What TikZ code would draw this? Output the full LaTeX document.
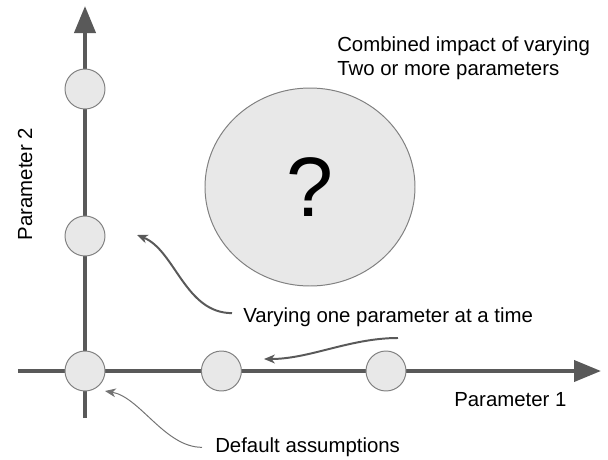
\documentclass[tikz,border=0pt]{standalone}
\usepackage{xcolor}
\usepackage{fontspec}
\setmainfont{Liberation Sans}
\usepackage{tikz}
\usetikzlibrary{arrows.meta,shapes.geometric}

\definecolor{axisgray}{HTML}{595959}
\definecolor{dotfill}{HTML}{E8E8E8}
\definecolor{dotline}{HTML}{808080}

\tikzset{
  axisline/.style={line width=0.1cm, draw=axisgray, -{Triangle[length=0.675cm,width=0.525cm]}},
  dot/.style={circle, fill=dotfill, draw=dotline, line width=0.7pt, minimum size=1cm, inner sep=0pt},
  callout/.style={draw=axisgray, line width=1.4pt, -{Stealth[length=0.27cm,width=0.22cm,inset=0.08cm]}},
  txt/.style={font=\fontsize{14.5}{17}\selectfont, inner sep=0pt}
}

\begin{document}
\begin{tikzpicture}
  \useasboundingbox (-2.125,-2.2) rectangle (13.075,9.275);
  % Axes
  \coordinate (xstart) at (-1.675,0);
  \coordinate (xend) at (12.9,0);
  \coordinate (ystart) at (0,-1.175);
  \coordinate (yend) at (0,9.125);
  \draw[axisline] (xstart) -- (xend);
  \draw[axisline] (ystart) -- (yend);
  % Points on the axes
  \node[dot] (base) at (0,0) {};
  \node[dot] (p1a) at (3.41,0) {};
  \node[dot] (p1b) at (7.525,0) {};
  \node[dot] (p2a) at (0,3.375) {};
  \node[dot] (p2b) at (0,7.05) {};
  % Combined region (big circle)
  \node[ellipse, fill=dotfill, draw=dotline, line width=0.7pt, minimum width=5.25cm, minimum height=4.95cm,
        font=\fontsize{60}{60}\selectfont] (combo) at (5.625,4.6) {?};
  % Labels
  \node[txt, anchor=west, align=left] (title) at (6.3,7.825) {Combined impact of varying\\Two or more parameters};
  \node[txt, rotate=90] (ylab) at (-1.5,4.675) {Parameter 2};
  \node[txt, anchor=base west] (xlab) at (9.225,-0.875) {Parameter 1};
  \node[txt, anchor=base west] (vary) at (3.95,1.225) {Varying one parameter at a time};
  \node[txt, anchor=base west] (dflt) at (3.25,-2.04) {Default assumptions};
  % Callout arrows
  \coordinate (varytip) at (1.3,3.4);
  \coordinate (sweepfrom) at (7.825,0.825);
  \coordinate (sweeptip) at (4.475,0.3);
  \coordinate (basetip) at (0.5,-0.5);
  \draw[callout] ([shift={(-0.275,0.09)}]vary.west) .. controls +(-1.175,0) and +(0.95,-0.375) .. (varytip);
  \draw[callout] (sweepfrom) .. controls +(-1.2,0) and +(1.15,0) .. (sweeptip);
  \draw[callout, line width=0.7pt, draw=gray!90!black] ([xshift=-0.325cm]dflt.west) .. controls +(-0.925,0) and +(0.875,-0.15) .. (basetip);
\end{tikzpicture}
\end{document}
